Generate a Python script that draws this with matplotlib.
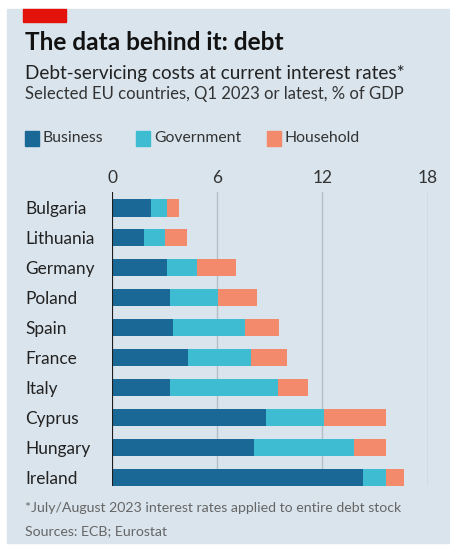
import numpy as np
import matplotlib.pyplot as plt
from matplotlib.patches import Rectangle

plt.rcParams['font.family'] = ['Lato', 'DejaVu Sans']

countries = ['Bulgaria', 'Lithuania', 'Germany', 'Poland', 'Spain',
             'France', 'Italy', 'Cyprus', 'Hungary', 'Ireland']
business = [2.2, 1.85, 3.15, 3.3, 3.45, 4.35, 3.3, 8.8, 8.1, 14.3]
government = [0.95, 1.15, 1.7, 2.75, 4.15, 3.55, 6.15, 3.3, 5.7, 1.35]
household = [0.65, 1.3, 2.2, 2.2, 1.95, 2.1, 1.75, 3.55, 1.85, 1.0]
xticks = [0, 6, 12, 18]

bg = '#d9e4ec'
c_bus = '#1a6896'
c_gov = '#3ebcd2'
c_hh = '#f48a6c'

fig = plt.figure(figsize=(4.5, 5.48), dpi=100)
W, H = 450, 548

# panel background and red tag
fig.patches.append(Rectangle((7 / W, 1 - 543 / H), 443 / W, 534 / H,
                             transform=fig.transFigure, color=bg, zorder=0))
fig.patches.append(Rectangle((23 / W, 1 - 22 / H), 43 / W, 13 / H,
                             transform=fig.transFigure, color='#e3120b', zorder=1))

fig.text(25 / W, 1 - 43 / H, 'The data behind it: debt', fontsize=17.6,
         fontweight='bold', color='#121212', va='center')
fig.text(25 / W, 1 - 73 / H, 'Debt-servicing costs at current interest rates*',
         fontsize=13.6, color='#222222', va='center')
fig.text(25 / W, 1 - 94 / H, 'Selected EU countries, Q1 2023 or latest, % of GDP',
         fontsize=12, color='#333333', va='center')

# legend
for x0, lab, col in [(25, 'Business', c_bus), (136, 'Government', c_gov),
                     (267, 'Household', c_hh)]:
    fig.patches.append(Rectangle((x0 / W, 1 - 146 / H), 14 / W, 15 / H,
                                 transform=fig.transFigure, color=col))
    fig.text((x0 + 18) / W, 1 - 138 / H, lab, fontsize=11.3, color='#333333', va='center')

ax = fig.add_axes([112 / W, 1 - 486 / H, 315.7 / W, 294 / H], zorder=3)
ax.set_facecolor('none')

y = np.arange(len(countries))
b = np.array(business)
g = np.array(government)
h = np.array(household)
ax.barh(y, b, height=0.57, color=c_bus, zorder=3)
ax.barh(y, g, left=b, height=0.57, color=c_gov, zorder=3)
ax.barh(y, h, left=b + g, height=0.57, color=c_hh, zorder=3)

ax.set_xlim(0, 18)
ax.set_ylim(9.3, -0.535)
ax.set_xticks(xticks)
ax.xaxis.tick_top()
ax.tick_params(axis='x', length=0, pad=4, labelsize=12.5, labelcolor='#333333')
ax.grid(axis='x', color='#b3bfc8', linewidth=1, zorder=1)
ax.axvline(0, color='#1d1d1d', linewidth=1.5, zorder=4)

ax.set_yticks(y)
ax.set_yticklabels(countries, fontsize=12.4, color='#222222', ha='left')
ax.tick_params(axis='y', length=0, pad=87 * 0.72)

for s in ax.spines.values():
    s.set_visible(False)

fig.text(25 / W, 1 - 508 / H, '*July/August 2023 interest rates applied to entire debt stock',
         fontsize=10.2, color='#666666', va='center')
fig.text(25 / W, 1 - 531 / H, 'Sources: ECB; Eurostat',
         fontsize=10.2, color='#666666', va='center')

fig.savefig('out.png', dpi=100, facecolor='white')
